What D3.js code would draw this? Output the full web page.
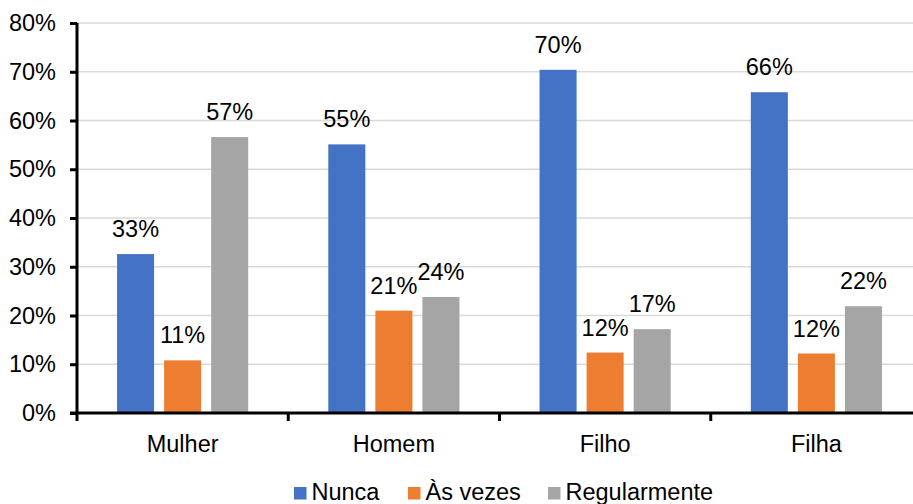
<!DOCTYPE html>
<html><head><meta charset="utf-8">
<script src="https://cdn.jsdelivr.net/npm/d3@7"></script>
<style>body{margin:0;background:#fff}svg{display:block}text{font-family:"Liberation Sans",Arial,sans-serif;fill:#000}</style>
</head><body><svg id="c" width="913" height="504"></svg>
<script>
const categories = ["Mulher","Homem","Filho","Filha"];
const seriesNames = ["Nunca","Às vezes","Regularmente"];
const nunca = [32.6, 55.1, 70.4, 65.8];
const asVezes = [10.8, 21.0, 12.4, 12.2];
const regularmente = [56.6, 23.8, 17.2, 21.9];
const yTicks = [0,10,20,30,40,50,60,70,80];
const colors = ["#4472C4","#ED7D31","#A5A5A5"];

const svg = d3.select("#c");
const pLeft = 77, pRight = 922, pTop = 23, pBottom = 413;
const y = d3.scaleLinear().domain([0,80]).range([pBottom, pTop]);
const x0 = d3.scaleBand().domain(categories).range([pLeft, pRight]);
const x1 = d3.scaleBand().domain(seriesNames).range([0, x0.bandwidth()]).paddingInner(0.213).paddingOuter(0.851);
const color = d3.scaleOrdinal().domain(seriesNames).range(colors);
const fs = 23.5;

// gridlines
svg.append("g").selectAll("line").data(yTicks.slice(1)).join("line")
  .attr("x1", pLeft).attr("x2", 913).attr("y1", d=>y(d)).attr("y2", d=>y(d))
  .attr("stroke", "#d9d9d9").attr("stroke-width", 1.5);

const rows = categories.map((c,i)=>({cat:c, vals:[nunca[i], asVezes[i], regularmente[i]]}));
const g = svg.append("g").selectAll("g").data(rows).join("g")
  .attr("transform", d=>`translate(${x0(d.cat)},0)`);
g.selectAll("rect").data(d=>d.vals.map((v,j)=>({s:seriesNames[j], v}))).join("rect")
  .attr("x", d=>x1(d.s)).attr("width", x1.bandwidth())
  .attr("y", d=>y(d.v)).attr("height", d=>y(0)-y(d.v))
  .attr("fill", d=>color(d.s));
g.selectAll("text").data(d=>d.vals.map((v,j)=>({s:seriesNames[j], v}))).join("text")
  .attr("x", d=>x1(d.s)+x1.bandwidth()/2).attr("y", d=>y(d.v)-17)
  .attr("text-anchor","middle").attr("font-size", fs)
  .text(d=>Math.round(d.v)+"%");

// y axis
const ya = d3.axisLeft(y).tickValues(yTicks).tickFormat(d=>d+"%").tickSize(7).tickPadding(14);
const yg = svg.append("g").attr("transform", `translate(${pLeft},0)`).call(ya);
yg.select(".domain").attr("stroke","#000").attr("stroke-width",3).attr("d", `M0,${pTop}V${pBottom}`);
yg.selectAll(".tick line").attr("stroke","#000").attr("stroke-width",3);
yg.selectAll(".tick text").attr("font-size", fs).attr("font-family",null).attr("fill","#000");

// x axis
const bounds = categories.map(c=>x0(c)).concat([pRight]);
const xg = svg.append("g");
xg.append("line").attr("x1", pLeft-7).attr("x2", 913).attr("y1", pBottom).attr("y2", pBottom)
  .attr("stroke","#000").attr("stroke-width",3);
xg.selectAll(".t").data(bounds).join("line").attr("class","t")
  .attr("x1", d=>d).attr("x2", d=>d).attr("y1", pBottom).attr("y2", pBottom+8)
  .attr("stroke","#000").attr("stroke-width",3);
xg.selectAll("text").data(categories).join("text")
  .attr("x", d=>x0(d)+x0.bandwidth()/2).attr("y", 452)
  .attr("text-anchor","middle").attr("font-size", fs).text(d=>d);

// legend
const legX = [294, 408, 548];
const lg = svg.append("g").selectAll("g").data(seriesNames).join("g")
  .attr("transform", (d,i)=>`translate(${legX[i]},0)`);
lg.append("rect").attr("x",0).attr("y",487).attr("width",12.5).attr("height",12.5).attr("fill", d=>color(d));
lg.append("text").attr("x",17.5).attr("y",500).attr("font-size", fs).text(d=>d);
</script></body></html>
